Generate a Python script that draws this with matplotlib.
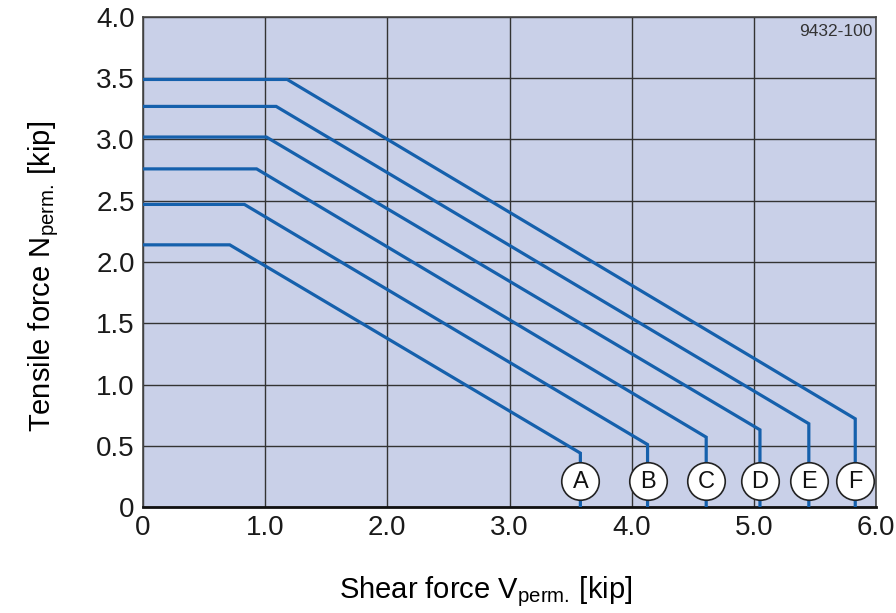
import matplotlib.pyplot as plt

plt.rcParams['font.family'] = ['Liberation Sans', 'DejaVu Sans']
plt.rcParams['mathtext.fontset'] = 'custom'
plt.rcParams['mathtext.rm'] = 'Liberation Sans'

# Curve data
labels = ['A', 'B', 'C', 'D', 'E', 'F']
plateau_n = [2.14, 2.47, 2.76, 3.02, 3.27, 3.49]   # N at the flat part
knee_v = [0.71, 0.83, 0.93, 1.01, 1.09, 1.18]      # V where the slope starts
end_v = [3.58, 4.13, 4.61, 5.05, 5.45, 5.83]       # V at the vertical drop
end_n = [0.44, 0.51, 0.57, 0.63, 0.68, 0.72]       # N at the bottom corner
circle_n = 0.21

x_ticks = [0, 1, 2, 3, 4, 5, 6]
x_ticklabels = ['0', '1.0', '2.0', '3.0', '4.0', '5.0', '6.0']
y_ticks = [0, 0.5, 1, 1.5, 2, 2.5, 3, 3.5, 4]
y_ticklabels = ['0', '0.5', '1.0', '1.5', '2.0', '2.5', '3.0', '3.5', '4.0']

line_color = '#1560ac'

fig = plt.figure(figsize=(8.96, 6.13), dpi=100)
ax = fig.add_axes([0.1596, 0.1729, 0.8181, 0.7994])
ax.set_facecolor('#c9d0e8')

for lab, pn, kv, ev, en in zip(labels, plateau_n, knee_v, end_v, end_n):
    ax.plot([0, kv, ev, ev], [pn, pn, en, 0], color=line_color, lw=2.3,
            solid_joinstyle='miter', zorder=3)
    ax.plot([ev], [circle_n], marker='o', ms=27, mfc='white', mec='#222222',
            mew=1.2, zorder=4, clip_on=False)
    ax.text(ev, circle_n - 0.005, lab, ha='center', va='center', fontsize=17,
            color='#111111', zorder=5)

ax.set_xlim(0, 6)
ax.set_ylim(0, 4)
ax.set_xticks(x_ticks)
ax.set_xticklabels(x_ticklabels)
ax.set_yticks(y_ticks)
ax.set_yticklabels(y_ticklabels)
ax.tick_params(length=0, labelsize=20, colors='#1a1a1a', pad=6)
ax.grid(True, color='#333333', lw=1.0)
ax.set_axisbelow(True)

for side in ['left', 'right', 'top']:
    ax.spines[side].set_color('#444444')
    ax.spines[side].set_linewidth(1.2)
ax.spines['bottom'].set_color('#111111')
ax.spines['bottom'].set_linewidth(2)

ax.text(0.995, 0.985, '9432-100', transform=ax.transAxes, ha='right', va='top',
        fontsize=12.5, color='#333333')

ax.set_xlabel(r'Shear force V$_{\mathrm{perm.}}\,$[kip]', fontsize=21)
ax.set_ylabel(r'Tensile force N$_{\mathrm{perm.}}\,$[kip]', fontsize=21)
ax.xaxis.set_label_coords(0.467, -0.138)
ax.yaxis.set_label_coords(-0.112, 0.471)

fig.savefig('out.png', dpi=100)
